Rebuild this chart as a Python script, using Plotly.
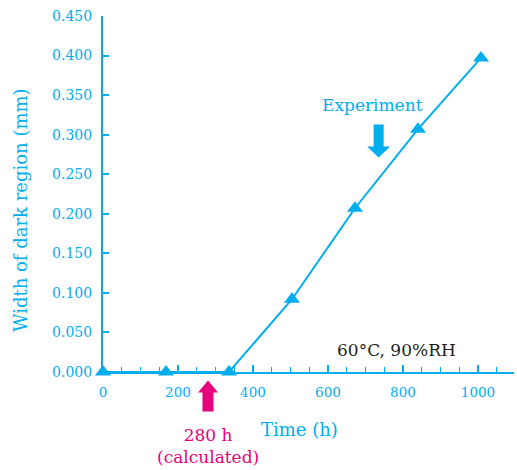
import plotly.graph_objects as go

# Measured growth of the dark region at 60 °C / 90 %RH
time_h = [0, 168, 336, 504, 672, 840, 1008]
width_mm = [0.000, 0.000, 0.000, 0.092, 0.207, 0.307, 0.397]

calculated_onset_h = 280
experiment_arrow = (735, 0.271)   # tip of the "Experiment" arrow (time, width)

CYAN = "#00AEEF"
MAGENTA = "#E6007E"
FONT = "DejaVu Serif"

X_RANGE = [0, 1096]
Y_RANGE = [0, 0.45]

fig = go.Figure()
fig.add_trace(go.Scatter(
    x=time_h, y=width_mm, mode="lines+markers",
    line=dict(color=CYAN, width=2),
    marker=dict(symbol="triangle-up", size=14, color=CYAN),
    cliponaxis=False, showlegend=False,
))


def block_arrow(shaft_w, head_w, head_h, length, direction, tip_y=0):
    """Block arrow path in pixels (y up), tip at (0, tip_y); direction +1 points up, -1 down."""
    s = -direction
    hw, sw = head_w / 2, shaft_w / 2
    pts = [(0, 0), (hw, s * head_h), (sw, s * head_h), (sw, s * length),
           (-sw, s * length), (-sw, s * head_h), (-hw, s * head_h)]
    return "M " + " L ".join(f"{x},{y + tip_y}" for x, y in pts) + " Z"


# "Experiment" arrow pointing down at the curve
fig.add_shape(
    type="path", xref="x", yref="y", xsizemode="pixel", ysizemode="pixel",
    xanchor=experiment_arrow[0], yanchor=experiment_arrow[1],
    path=block_arrow(10, 23, 11, 33, -1),
    fillcolor=CYAN, line=dict(width=0),
)

# Calculated onset arrow below the time axis
onset_paper_x = (calculated_onset_h - X_RANGE[0]) / (X_RANGE[1] - X_RANGE[0])
fig.add_shape(
    type="path", xref="paper", yref="paper", xsizemode="pixel", ysizemode="pixel",
    xanchor=onset_paper_x, yanchor=0,
    path=block_arrow(11, 20, 12, 31, 1, tip_y=-8.5),
    fillcolor=MAGENTA, line=dict(width=0),
)

annotations = [
    dict(text="Experiment", x=experiment_arrow[0], y=experiment_arrow[1],
         xref="x", yref="y", showarrow=False, xshift=-6, yshift=53,
         xanchor="center", yanchor="middle",
         font=dict(family=FONT, size=17, color=CYAN)),
    dict(text="280 h<br>(calculated)", x=calculated_onset_h, y=0,
         xref="x", yref="paper", showarrow=False, yshift=-74,
         xanchor="center", yanchor="middle",
         font=dict(family=FONT, size=17, color=MAGENTA)),
    dict(text="Time (h)", x=0.479, y=0, xref="paper", yref="paper",
         showarrow=False, yshift=-57, xanchor="center", yanchor="middle",
         font=dict(family=FONT, size=18, color=CYAN)),
    dict(text="Width of dark region (mm)", x=0, y=0.455, xref="paper", yref="paper",
         showarrow=False, xshift=-83, textangle=-90, xanchor="center", yanchor="middle",
         font=dict(family=FONT, size=18, color=CYAN)),
    dict(text="60°C, 90%RH", x=0.715, y=0.063, xref="paper", yref="paper",
         showarrow=False, xanchor="center", yanchor="middle",
         font=dict(family=FONT, size=17, color="#231F20")),
]
for a in annotations:
    fig.add_annotation(**a)

fig.update_xaxes(
    range=X_RANGE, showgrid=False, zeroline=False,
    showline=True, linecolor=CYAN, linewidth=2,
    ticks="inside", ticklen=7, tickwidth=1.5, tickcolor=CYAN,
    tickvals=[0, 200, 400, 600, 800, 1000],
    minor=dict(dtick=50, ticks="inside", ticklen=5, tickwidth=1.2, tickcolor=CYAN),
    tickfont=dict(family=FONT, size=13.5, color=CYAN),
    ticklabelstandoff=7,
)
fig.update_yaxes(
    range=Y_RANGE, showgrid=False, zeroline=False,
    showline=True, linecolor=CYAN, linewidth=2,
    ticks="inside", ticklen=6, tickwidth=1.5, tickcolor=CYAN,
    dtick=0.05, tickformat=".3f",
    tickfont=dict(family=FONT, size=14, color=CYAN),
    ticklabelstandoff=6,
)

fig.update_layout(
    width=517, height=470,
    margin=dict(l=103, r=3, t=16, b=98),
    plot_bgcolor="white", paper_bgcolor="white",
)

fig.write_html("out.html")
